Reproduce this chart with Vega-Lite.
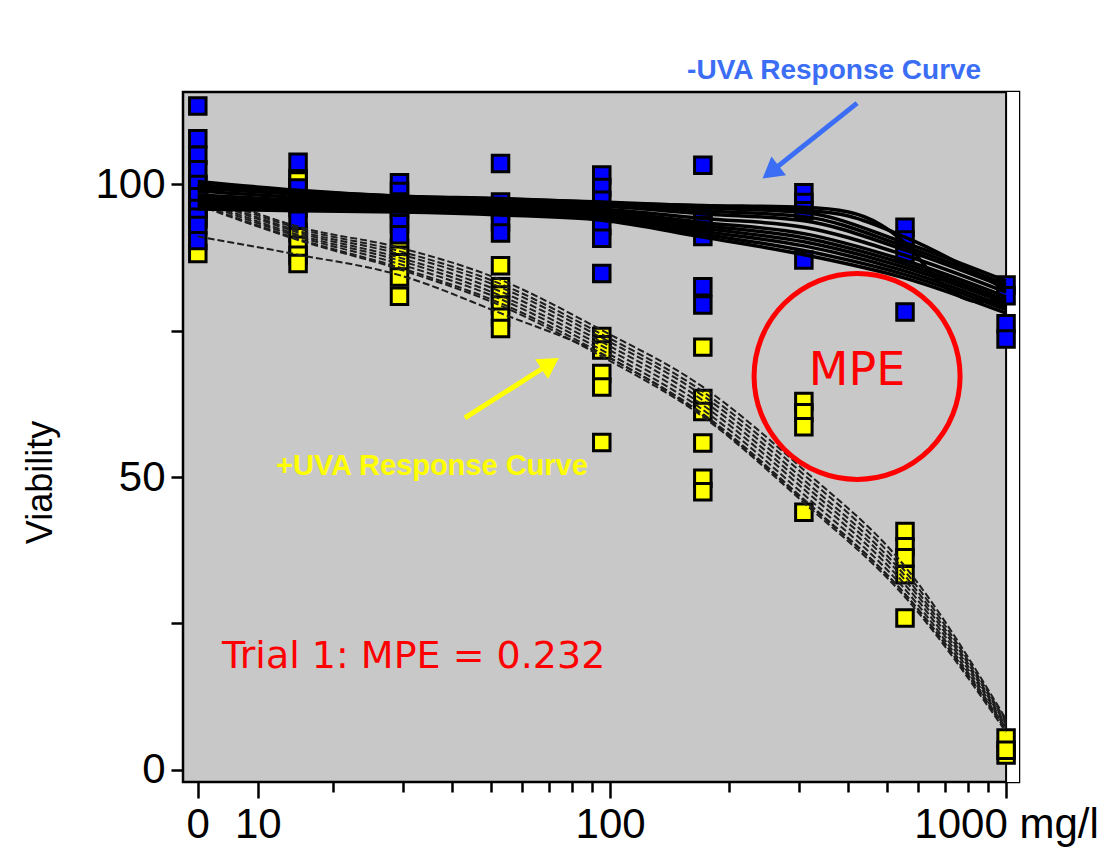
{
  "$schema": "https://vega.github.io/schema/vega-lite/v6.json",
  "width": 836,
  "height": 690,
  "autosize": "none",
  "padding": {"left": 183, "top": 92, "right": 83, "bottom": 83},
  "background": "white",
  "config": {
    "view": {"fill": "#c8c8c8", "stroke": "black", "strokeWidth": 2.5},
    "font": "Liberation Sans"
  },
  "datasets": {
    "pts": [
      {"g": "+UVA", "d": 0, "v": 100}, {"g": "+UVA", "d": 0, "v": 98}, {"g": "+UVA", "d": 0, "v": 96}, {"g": "+UVA", "d": 0, "v": 94}, {"g": "+UVA", "d": 0, "v": 88.2},
      {"g": "+UVA", "d": 16.3, "v": 101}, {"g": "+UVA", "d": 16.3, "v": 100.6}, {"g": "+UVA", "d": 16.3, "v": 91.7}, {"g": "+UVA", "d": 16.3, "v": 89.6}, {"g": "+UVA", "d": 16.3, "v": 87.9}, {"g": "+UVA", "d": 16.3, "v": 86.5},
      {"g": "+UVA", "d": 29.4, "v": 89.1}, {"g": "+UVA", "d": 29.4, "v": 87.9}, {"g": "+UVA", "d": 29.4, "v": 86.6}, {"g": "+UVA", "d": 29.4, "v": 84.2}, {"g": "+UVA", "d": 29.4, "v": 80.9},
      {"g": "+UVA", "d": 52.9, "v": 86.1}, {"g": "+UVA", "d": 52.9, "v": 82.5}, {"g": "+UVA", "d": 52.9, "v": 81.1}, {"g": "+UVA", "d": 52.9, "v": 79.4}, {"g": "+UVA", "d": 52.9, "v": 77.3}, {"g": "+UVA", "d": 52.9, "v": 75.4},
      {"g": "+UVA", "d": 95.3, "v": 74.0}, {"g": "+UVA", "d": 95.3, "v": 72.6}, {"g": "+UVA", "d": 95.3, "v": 71.7}, {"g": "+UVA", "d": 95.3, "v": 67.7}, {"g": "+UVA", "d": 95.3, "v": 65.4}, {"g": "+UVA", "d": 95.3, "v": 55.9},
      {"g": "+UVA", "d": 171.5, "v": 72.2}, {"g": "+UVA", "d": 171.5, "v": 63.4}, {"g": "+UVA", "d": 171.5, "v": 61.2}, {"g": "+UVA", "d": 171.5, "v": 55.8}, {"g": "+UVA", "d": 171.5, "v": 49.8}, {"g": "+UVA", "d": 171.5, "v": 47.5},
      {"g": "+UVA", "d": 308.6, "v": 62.9}, {"g": "+UVA", "d": 308.6, "v": 61.0}, {"g": "+UVA", "d": 308.6, "v": 58.6}, {"g": "+UVA", "d": 308.6, "v": 44.0},
      {"g": "+UVA", "d": 555.6, "v": 40.7}, {"g": "+UVA", "d": 555.6, "v": 38.1}, {"g": "+UVA", "d": 555.6, "v": 36.2}, {"g": "+UVA", "d": 555.6, "v": 33.3}, {"g": "+UVA", "d": 555.6, "v": 25.9},
      {"g": "+UVA", "d": 1000, "v": 2.5}, {"g": "+UVA", "d": 1000, "v": 5.4}, {"g": "+UVA", "d": 1000, "v": 3.3},
      {"g": "-UVA", "d": 0, "v": 113.4}, {"g": "-UVA", "d": 0, "v": 107.8}, {"g": "-UVA", "d": 0, "v": 105.0}, {"g": "-UVA", "d": 0, "v": 102.5}, {"g": "-UVA", "d": 0, "v": 100.0}, {"g": "-UVA", "d": 0, "v": 97.9}, {"g": "-UVA", "d": 0, "v": 95.9}, {"g": "-UVA", "d": 0, "v": 94.4}, {"g": "-UVA", "d": 0, "v": 93.0}, {"g": "-UVA", "d": 0, "v": 90.4},
      {"g": "-UVA", "d": 16.3, "v": 103.8}, {"g": "-UVA", "d": 16.3, "v": 99.4}, {"g": "-UVA", "d": 16.3, "v": 97.5}, {"g": "-UVA", "d": 16.3, "v": 96.0}, {"g": "-UVA", "d": 16.3, "v": 93.9},
      {"g": "-UVA", "d": 29.4, "v": 100.3}, {"g": "-UVA", "d": 29.4, "v": 98.8}, {"g": "-UVA", "d": 29.4, "v": 97.0}, {"g": "-UVA", "d": 29.4, "v": 95.8}, {"g": "-UVA", "d": 29.4, "v": 94.6}, {"g": "-UVA", "d": 29.4, "v": 93.3}, {"g": "-UVA", "d": 29.4, "v": 91.4},
      {"g": "-UVA", "d": 52.9, "v": 103.6}, {"g": "-UVA", "d": 52.9, "v": 97.0}, {"g": "-UVA", "d": 52.9, "v": 95.5}, {"g": "-UVA", "d": 52.9, "v": 93.6}, {"g": "-UVA", "d": 52.9, "v": 91.7},
      {"g": "-UVA", "d": 95.3, "v": 101.6}, {"g": "-UVA", "d": 95.3, "v": 99.5}, {"g": "-UVA", "d": 95.3, "v": 97.3}, {"g": "-UVA", "d": 95.3, "v": 95.0}, {"g": "-UVA", "d": 95.3, "v": 93.0}, {"g": "-UVA", "d": 95.3, "v": 90.8}, {"g": "-UVA", "d": 95.3, "v": 84.8},
      {"g": "-UVA", "d": 171.5, "v": 103.3}, {"g": "-UVA", "d": 171.5, "v": 95.0}, {"g": "-UVA", "d": 171.5, "v": 93.0}, {"g": "-UVA", "d": 171.5, "v": 91.1}, {"g": "-UVA", "d": 171.5, "v": 82.5}, {"g": "-UVA", "d": 171.5, "v": 79.4},
      {"g": "-UVA", "d": 308.6, "v": 98.6}, {"g": "-UVA", "d": 308.6, "v": 96.9}, {"g": "-UVA", "d": 308.6, "v": 95.5}, {"g": "-UVA", "d": 308.6, "v": 87.1},
      {"g": "-UVA", "d": 555.6, "v": 92.7}, {"g": "-UVA", "d": 555.6, "v": 90.5}, {"g": "-UVA", "d": 555.6, "v": 88.2}, {"g": "-UVA", "d": 555.6, "v": 78.2},
      {"g": "-UVA", "d": 1000, "v": 82.8}, {"g": "-UVA", "d": 1000, "v": 81.0}, {"g": "-UVA", "d": 1000, "v": 76.2}, {"g": "-UVA", "d": 1000, "v": 73.6}
    ],
    "dash": [
      {"c": "d1", "d": 0, "v": 99.0}, {"c": "d1", "d": 16.3, "v": 92.8}, {"c": "d1", "d": 29.4, "v": 89.2}, {"c": "d1", "d": 52.9, "v": 83.7}, {"c": "d1", "d": 95.3, "v": 75.1}, {"c": "d1", "d": 171.5, "v": 65.4}, {"c": "d1", "d": 308.6, "v": 51.2}, {"c": "d1", "d": 555.6, "v": 34.7}, {"c": "d1", "d": 1000, "v": 8.6},
      {"c": "d2", "d": 0, "v": 98.6}, {"c": "d2", "d": 16.3, "v": 92.5}, {"c": "d2", "d": 29.4, "v": 88.6}, {"c": "d2", "d": 52.9, "v": 83.0}, {"c": "d2", "d": 95.3, "v": 74.4}, {"c": "d2", "d": 171.5, "v": 64.6}, {"c": "d2", "d": 308.6, "v": 50.4}, {"c": "d2", "d": 555.6, "v": 33.9}, {"c": "d2", "d": 1000, "v": 8.3},
      {"c": "d3", "d": 0, "v": 98.2}, {"c": "d3", "d": 16.3, "v": 92.1}, {"c": "d3", "d": 29.4, "v": 88.1}, {"c": "d3", "d": 52.9, "v": 82.4}, {"c": "d3", "d": 95.3, "v": 73.8}, {"c": "d3", "d": 171.5, "v": 63.9}, {"c": "d3", "d": 308.6, "v": 49.5}, {"c": "d3", "d": 555.6, "v": 33.1}, {"c": "d3", "d": 1000, "v": 8.0},
      {"c": "d4", "d": 0, "v": 97.9}, {"c": "d4", "d": 16.3, "v": 91.8}, {"c": "d4", "d": 29.4, "v": 87.5}, {"c": "d4", "d": 52.9, "v": 81.7}, {"c": "d4", "d": 95.3, "v": 73.1}, {"c": "d4", "d": 171.5, "v": 63.1}, {"c": "d4", "d": 308.6, "v": 48.7}, {"c": "d4", "d": 555.6, "v": 32.4}, {"c": "d4", "d": 1000, "v": 7.7},
      {"c": "d5", "d": 0, "v": 97.5}, {"c": "d5", "d": 16.3, "v": 91.4}, {"c": "d5", "d": 29.4, "v": 87.0}, {"c": "d5", "d": 52.9, "v": 81.0}, {"c": "d5", "d": 95.3, "v": 72.4}, {"c": "d5", "d": 171.5, "v": 62.3}, {"c": "d5", "d": 308.6, "v": 47.9}, {"c": "d5", "d": 555.6, "v": 31.6}, {"c": "d5", "d": 1000, "v": 7.4},
      {"c": "d6", "d": 0, "v": 97.1}, {"c": "d6", "d": 16.3, "v": 91.1}, {"c": "d6", "d": 29.4, "v": 86.4}, {"c": "d6", "d": 52.9, "v": 80.4}, {"c": "d6", "d": 95.3, "v": 71.7}, {"c": "d6", "d": 171.5, "v": 61.5}, {"c": "d6", "d": 308.6, "v": 47.0}, {"c": "d6", "d": 555.6, "v": 30.8}, {"c": "d6", "d": 1000, "v": 7.0},
      {"c": "d7", "d": 0, "v": 96.7}, {"c": "d7", "d": 16.3, "v": 90.7}, {"c": "d7", "d": 29.4, "v": 85.8}, {"c": "d7", "d": 52.9, "v": 79.7}, {"c": "d7", "d": 95.3, "v": 71.1}, {"c": "d7", "d": 171.5, "v": 60.8}, {"c": "d7", "d": 308.6, "v": 46.2}, {"c": "d7", "d": 555.6, "v": 30.0}, {"c": "d7", "d": 1000, "v": 6.7},
      {"c": "d8", "d": 0, "v": 96.5}, {"c": "d8", "d": 16.3, "v": 90.5}, {"c": "d8", "d": 29.4, "v": 85.5}, {"c": "d8", "d": 52.9, "v": 79.3}, {"c": "d8", "d": 95.3, "v": 70.6}, {"c": "d8", "d": 171.5, "v": 60.3}, {"c": "d8", "d": 308.6, "v": 45.6}, {"c": "d8", "d": 555.6, "v": 29.5}, {"c": "d8", "d": 1000, "v": 6.4},
      {"c": "d9", "d": 0, "v": 91.1}, {"c": "d9", "d": 16.3, "v": 88.0}, {"c": "d9", "d": 29.4, "v": 84.5}, {"c": "d9", "d": 52.9, "v": 78.0}, {"c": "d9", "d": 95.3, "v": 71.0}, {"c": "d9", "d": 171.5, "v": 60.5}, {"c": "d9", "d": 308.6, "v": 46.0}, {"c": "d9", "d": 555.6, "v": 30.0}, {"c": "d9", "d": 1000, "v": 7.0}
    ],
    "solid": [
      {"c": "b1", "d": 0, "v": 100.5}, {"c": "b1", "d": 16.3, "v": 99.0}, {"c": "b1", "d": 29.4, "v": 98.0}, {"c": "b1", "d": 52.9, "v": 97.6}, {"c": "b1", "d": 95.3, "v": 96.9}, {"c": "b1", "d": 171.5, "v": 96.0}, {"c": "b1", "d": 308.6, "v": 95.2}, {"c": "b1", "d": 555.6, "v": 90.0}, {"c": "b1", "d": 1000, "v": 83.5},
      {"c": "b2", "d": 0, "v": 100.0}, {"c": "b2", "d": 16.3, "v": 98.6}, {"c": "b2", "d": 29.4, "v": 97.7}, {"c": "b2", "d": 52.9, "v": 97.3}, {"c": "b2", "d": 95.3, "v": 96.6}, {"c": "b2", "d": 171.5, "v": 95.5}, {"c": "b2", "d": 308.6, "v": 94.5}, {"c": "b2", "d": 555.6, "v": 89.4}, {"c": "b2", "d": 1000, "v": 82.9},
      {"c": "b3", "d": 0, "v": 99.6}, {"c": "b3", "d": 16.3, "v": 98.3}, {"c": "b3", "d": 29.4, "v": 97.5}, {"c": "b3", "d": 52.9, "v": 97.0}, {"c": "b3", "d": 95.3, "v": 96.3}, {"c": "b3", "d": 171.5, "v": 95.0}, {"c": "b3", "d": 308.6, "v": 93.8}, {"c": "b3", "d": 555.6, "v": 88.8}, {"c": "b3", "d": 1000, "v": 82.4},
      {"c": "b4", "d": 0, "v": 98.9}, {"c": "b4", "d": 16.3, "v": 97.8}, {"c": "b4", "d": 29.4, "v": 97.1}, {"c": "b4", "d": 52.9, "v": 96.6}, {"c": "b4", "d": 95.3, "v": 95.8}, {"c": "b4", "d": 171.5, "v": 94.2}, {"c": "b4", "d": 308.6, "v": 92.7}, {"c": "b4", "d": 555.6, "v": 87.9}, {"c": "b4", "d": 1000, "v": 81.6},
      {"c": "b5", "d": 0, "v": 98.2}, {"c": "b5", "d": 16.3, "v": 97.3}, {"c": "b5", "d": 29.4, "v": 96.7}, {"c": "b5", "d": 52.9, "v": 96.2}, {"c": "b5", "d": 95.3, "v": 95.4}, {"c": "b5", "d": 171.5, "v": 93.5}, {"c": "b5", "d": 308.6, "v": 91.6}, {"c": "b5", "d": 555.6, "v": 87.0}, {"c": "b5", "d": 1000, "v": 80.8},
      {"c": "b6", "d": 0, "v": 97.7}, {"c": "b6", "d": 16.3, "v": 96.9}, {"c": "b6", "d": 29.4, "v": 96.4}, {"c": "b6", "d": 52.9, "v": 95.9}, {"c": "b6", "d": 95.3, "v": 95.1}, {"c": "b6", "d": 171.5, "v": 93.0}, {"c": "b6", "d": 308.6, "v": 90.9}, {"c": "b6", "d": 555.6, "v": 86.4}, {"c": "b6", "d": 1000, "v": 80.2},
      {"c": "b7", "d": 0, "v": 97.2}, {"c": "b7", "d": 16.3, "v": 96.6}, {"c": "b7", "d": 29.4, "v": 96.1}, {"c": "b7", "d": 52.9, "v": 95.6}, {"c": "b7", "d": 95.3, "v": 94.8}, {"c": "b7", "d": 171.5, "v": 92.5}, {"c": "b7", "d": 308.6, "v": 90.2}, {"c": "b7", "d": 555.6, "v": 85.8}, {"c": "b7", "d": 1000, "v": 79.7},
      {"c": "b8", "d": 0, "v": 96.7}, {"c": "b8", "d": 16.3, "v": 96.2}, {"c": "b8", "d": 29.4, "v": 95.8}, {"c": "b8", "d": 52.9, "v": 95.4}, {"c": "b8", "d": 95.3, "v": 94.5}, {"c": "b8", "d": 171.5, "v": 92.0}, {"c": "b8", "d": 308.6, "v": 89.5}, {"c": "b8", "d": 555.6, "v": 85.2}, {"c": "b8", "d": 1000, "v": 79.1},
      {"c": "b9", "d": 0, "v": 96.3}, {"c": "b9", "d": 16.3, "v": 95.8}, {"c": "b9", "d": 29.4, "v": 95.5}, {"c": "b9", "d": 52.9, "v": 95.1}, {"c": "b9", "d": 95.3, "v": 94.2}, {"c": "b9", "d": 171.5, "v": 91.5}, {"c": "b9", "d": 308.6, "v": 88.7}, {"c": "b9", "d": 555.6, "v": 84.6}, {"c": "b9", "d": 1000, "v": 78.6},
      {"c": "b10", "d": 0, "v": 95.8}, {"c": "b10", "d": 16.3, "v": 95.5}, {"c": "b10", "d": 29.4, "v": 95.3}, {"c": "b10", "d": 52.9, "v": 94.8}, {"c": "b10", "d": 95.3, "v": 93.9}, {"c": "b10", "d": 171.5, "v": 91.0}, {"c": "b10", "d": 308.6, "v": 88.0}, {"c": "b10", "d": 555.6, "v": 84.0}, {"c": "b10", "d": 1000, "v": 78.0},
      {"c": "b11", "d": 0, "v": 99.3}, {"c": "b11", "d": 16.3, "v": 98.4}, {"c": "b11", "d": 29.4, "v": 97.8}, {"c": "b11", "d": 52.9, "v": 97.3}, {"c": "b11", "d": 95.3, "v": 96.8}, {"c": "b11", "d": 171.5, "v": 96.4}, {"c": "b11", "d": 308.6, "v": 96.1}, {"c": "b11", "d": 400, "v": 95.3}, {"c": "b11", "d": 480, "v": 93.2}, {"c": "b11", "d": 555.6, "v": 90.0}, {"c": "b11", "d": 700, "v": 82.5}, {"c": "b11", "d": 850, "v": 80.0}, {"c": "b11", "d": 1000, "v": 80.5},
      {"c": "b12", "d": 0, "v": 99.8}, {"c": "b12", "d": 16.3, "v": 98.8}, {"c": "b12", "d": 29.4, "v": 98.0}, {"c": "b12", "d": 52.9, "v": 97.5}, {"c": "b12", "d": 95.3, "v": 97.0}, {"c": "b12", "d": 171.5, "v": 96.3}, {"c": "b12", "d": 308.6, "v": 95.6}, {"c": "b12", "d": 400, "v": 94.6}, {"c": "b12", "d": 555.6, "v": 91.0}, {"c": "b12", "d": 1000, "v": 82.0}
    ]
  },
  "layer": [
    {
      "data": {"values": [{"a": 1000, "b": 1078}]},
      "mark": {"type": "rect", "fill": "white"},
      "encoding": {
        "x": {"field": "a", "type": "quantitative", "scale": {"type": "log", "domain": [8.35, 1078], "nice": false}, "title": null},
        "x2": {"field": "b"}
      }
    },
    {
      "data": {"values": [{"a": 1000}]},
      "mark": {"type": "rule", "stroke": "black", "strokeWidth": 2},
      "encoding": {
        "x": {"field": "a", "type": "quantitative", "title": null}
      }
    },
    {
      "data": {"name": "pts"},
      "transform": [{"filter": "datum.g === '+UVA'"}, {"calculate": "datum.d === 0 ? 9.1 : datum.d", "as": "x"}],
      "mark": {"type": "point", "shape": "square", "filled": true, "size": 272, "fill": "#ffff00", "stroke": "black", "strokeWidth": 3, "opacity": 1},
      "encoding": {
        "x": {
          "field": "x", "type": "quantitative", "title": null,
          "scale": {"type": "log", "domain": [8.35, 1078], "nice": false},
          "axis": {
            "values": [9.1, 12.9, 20, 30, 40, 50, 60, 70, 80, 90, 100, 200, 300, 400, 500, 600, 700, 800, 900, 1000],
            "labelExpr": "datum.value < 10 ? '0' : (datum.value < 15 ? '10' : (datum.value == 100 ? '100' : (datum.value == 1000 ? '1000 mg/l' : '')))",
            "tickSize": {"condition": {"test": "datum.value < 15 || datum.value == 100 || datum.value == 1000", "value": 16}, "value": 10},
            "tickWidth": 2.5, "tickColor": "black", "domain": false, "grid": false,
            "labelFontSize": 42, "labelColor": "black", "labelPadding": 6, "labelOverlap": false, "labelFlush": false, "labelBound": false, "labelLimit": 0
          }
        },
        "y": {
          "field": "v", "type": "quantitative", "title": "Viability",
          "scale": {"domain": [-2.12, 115.8], "nice": false, "zero": false},
          "axis": {
            "values": [0, 25, 50, 75, 100],
            "labelExpr": "datum.value % 50 === 0 ? datum.label : ''",
            "tickSize": 12, "tickWidth": 2.5, "tickColor": "black", "domain": false, "grid": false,
            "labelFontSize": 42, "labelColor": "black", "labelPadding": 6,
            "titleFontSize": 36, "titleFontWeight": "normal", "titleColor": "black",
            "titleX": -143, "titleY": 390, "titleAlign": "center", "titleBaseline": "middle", "titleAngle": -90
          }
        }
      }
    },
    {
      "data": {"name": "pts"},
      "transform": [{"filter": "datum.g === '-UVA'"}, {"calculate": "datum.d === 0 ? 9.1 : datum.d", "as": "x"}],
      "mark": {"type": "point", "shape": "square", "filled": true, "size": 272, "fill": "#0000ff", "stroke": "black", "strokeWidth": 3, "opacity": 1},
      "encoding": {
        "x": {"field": "x", "type": "quantitative", "title": null},
        "y": {"field": "v", "type": "quantitative", "title": "Viability"}
      }
    },
    {
      "data": {"name": "dash"},
      "transform": [{"calculate": "datum.d === 0 ? 9.1 : datum.d", "as": "x"}],
      "mark": {"type": "line", "interpolate": "monotone", "stroke": "#1e1e1e", "strokeWidth": 2, "strokeDash": [7, 3]},
      "encoding": {
        "x": {"field": "x", "type": "quantitative", "title": null},
        "y": {"field": "v", "type": "quantitative", "title": "Viability"},
        "detail": {"field": "c"}
      }
    },
    {
      "data": {"name": "solid"},
      "transform": [{"calculate": "datum.d === 0 ? 9.1 : datum.d", "as": "x"}],
      "mark": {"type": "line", "interpolate": "monotone", "stroke": "black", "strokeWidth": 3.5},
      "encoding": {
        "x": {"field": "x", "type": "quantitative", "title": null},
        "y": {"field": "v", "type": "quantitative", "title": "Viability"},
        "detail": {"field": "c"}
      }
    },
    {
      "data": {"values": [{"d": 420.5, "v": 113.9, "d2": 254.4, "v2": 102.1}]},
      "mark": {"type": "rule", "stroke": "#3b6ef5", "strokeWidth": 5},
      "encoding": {
        "x": {"field": "d", "type": "quantitative", "title": null},
        "y": {"field": "v", "type": "quantitative", "title": "Viability"},
        "x2": {"field": "d2"},
        "y2": {"field": "v2"}
      }
    },
    {
      "data": {"values": [{"d": 254.4, "v": 102.1}]},
      "mark": {"type": "point", "shape": "triangle-up", "filled": true, "size": 560, "fill": "#3b6ef5", "opacity": 1, "angle": 232},
      "encoding": {
        "x": {"field": "d", "type": "quantitative", "title": null},
        "y": {"field": "v", "type": "quantitative", "title": "Viability"}
      }
    },
    {
      "data": {"values": [{"d": 43.0, "v": 60.1, "d2": 70.6, "v2": 69.4}]},
      "mark": {"type": "rule", "stroke": "#ffff00", "strokeWidth": 5},
      "encoding": {
        "x": {"field": "d", "type": "quantitative", "title": null},
        "y": {"field": "v", "type": "quantitative", "title": "Viability"},
        "x2": {"field": "d2"},
        "y2": {"field": "v2"}
      }
    },
    {
      "data": {"values": [{"d": 70.6, "v": 69.4}]},
      "mark": {"type": "point", "shape": "triangle-up", "filled": true, "size": 560, "fill": "#ffff00", "opacity": 1, "angle": 57},
      "encoding": {
        "x": {"field": "d", "type": "quantitative", "title": null},
        "y": {"field": "v", "type": "quantitative", "title": "Viability"}
      }
    },
    {
      "data": {"values": [{"d": 420.5, "v": 67.2}]},
      "mark": {"type": "point", "shape": "circle", "filled": false, "size": 42436, "stroke": "#ff0000", "strokeWidth": 5, "opacity": 1},
      "encoding": {
        "x": {"field": "d", "type": "quantitative", "title": null},
        "y": {"field": "v", "type": "quantitative", "title": "Viability"}
      }
    },
    {
      "data": {"values": [{"d": 368, "v": 119.4, "t": "-UVA Response Curve"}]},
      "mark": {"type": "text", "font": "Liberation Sans", "fontWeight": "bold", "fontSize": 28, "fill": "#3b6ef5", "align": "center", "baseline": "middle"},
      "encoding": {
        "x": {"field": "d", "type": "quantitative", "title": null},
        "y": {"field": "v", "type": "quantitative", "title": "Viability"},
        "text": {"field": "t"}
      }
    },
    {
      "data": {"values": [{"d": 35.5, "v": 51.9, "t": "+UVA Response Curve"}]},
      "mark": {"type": "text", "font": "Liberation Sans", "fontWeight": "bold", "fontSize": 29, "fill": "#ffff00", "align": "center", "baseline": "middle"},
      "encoding": {
        "x": {"field": "d", "type": "quantitative", "title": null},
        "y": {"field": "v", "type": "quantitative", "title": "Viability"},
        "text": {"field": "t"}
      }
    },
    {
      "data": {"values": [{"d": 420.5, "v": 68.1, "t": "MPE"}]},
      "mark": {"type": "text", "font": "DejaVu Sans", "fontSize": 46, "fill": "#ff0000", "align": "center", "baseline": "middle"},
      "encoding": {
        "x": {"field": "d", "type": "quantitative", "title": null},
        "y": {"field": "v", "type": "quantitative", "title": "Viability"},
        "text": {"field": "t"}
      }
    },
    {
      "data": {"values": [{"d": 10.48, "v": 19.2, "t": "Trial 1: MPE = 0.232"}]},
      "mark": {"type": "text", "font": "DejaVu Sans", "fontSize": 38, "fill": "#ff0000", "align": "left", "baseline": "middle"},
      "encoding": {
        "x": {"field": "d", "type": "quantitative", "title": null},
        "y": {"field": "v", "type": "quantitative", "title": "Viability"},
        "text": {"field": "t"}
      }
    }
  ]
}
